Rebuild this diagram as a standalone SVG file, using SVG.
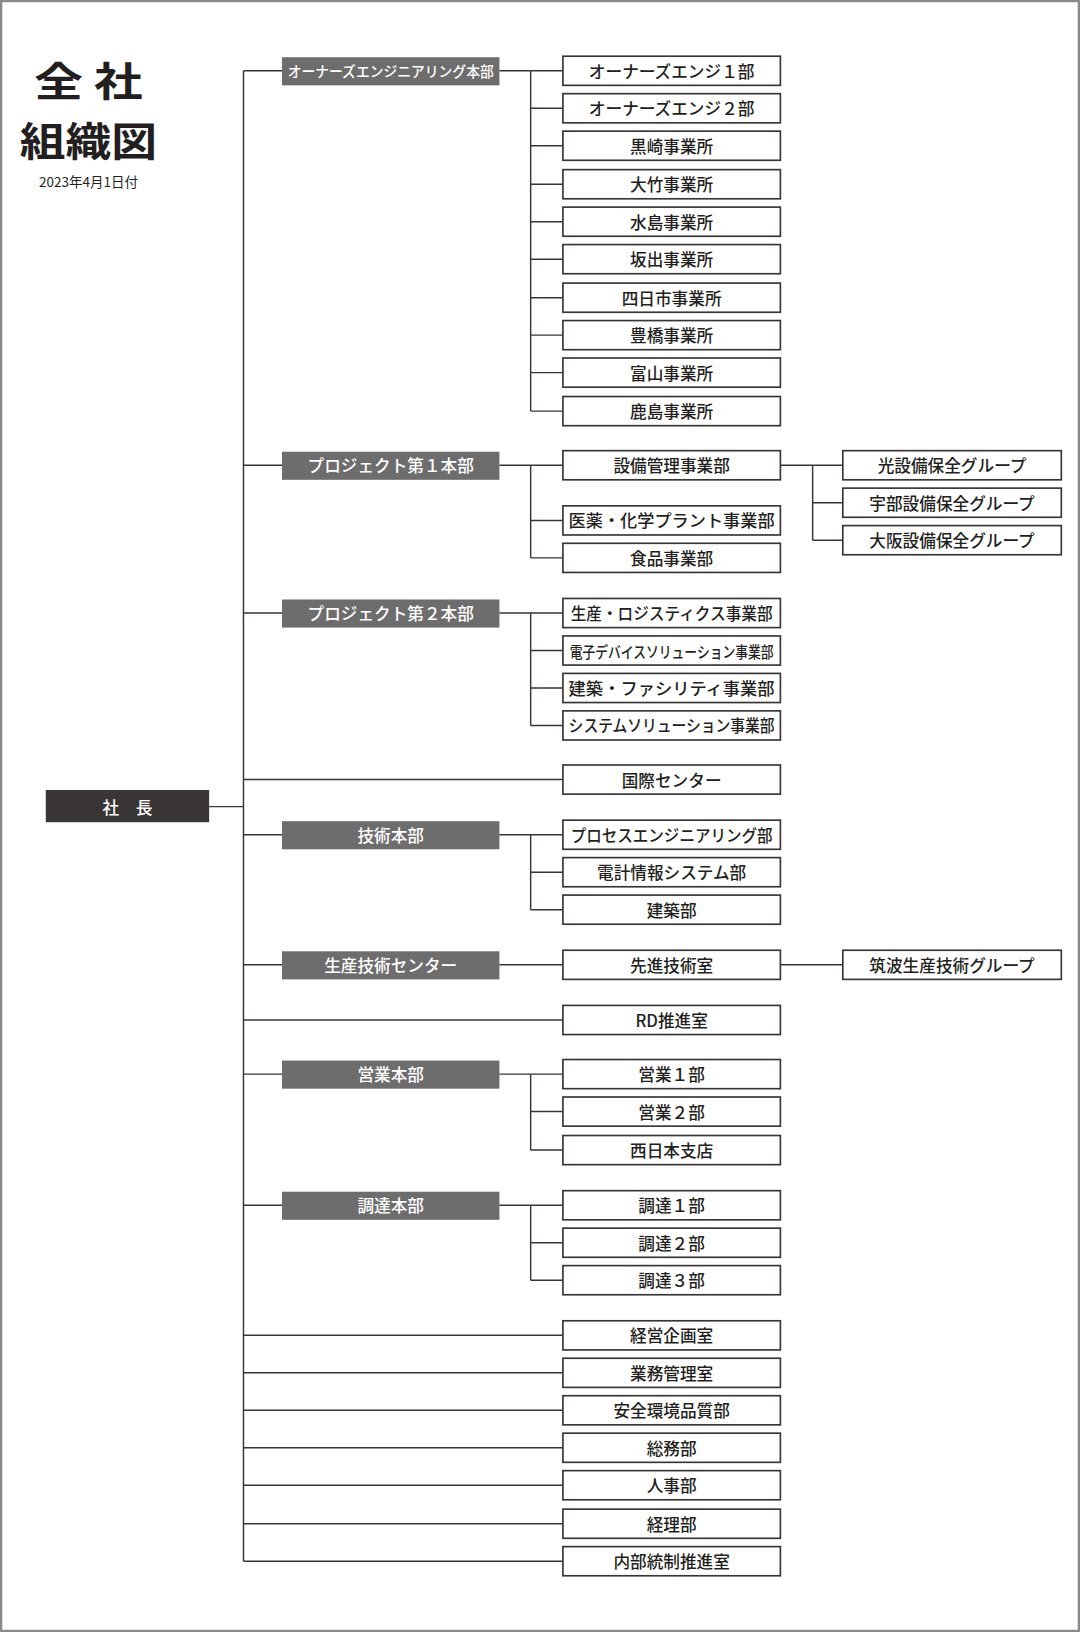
<svg xmlns="http://www.w3.org/2000/svg" width="1080" height="1632" viewBox="0 0 1080 1632">
<style>
text{font-family:"Noto Sans CJK JP","Noto Sans",sans-serif;text-anchor:middle;dominant-baseline:central}
.b2 rect{fill:#fff;stroke:#3a3535;stroke-width:1.6}
.b2 text{font-size:16px;font-weight:500;fill:#231f20}
.b1 rect{fill:#6e6d6d}
.b1 text{font-size:16px;font-weight:500;fill:#fff}
#conn path{fill:none;stroke:#3a3535;stroke-width:1.4}
</style>
<rect x="1" y="1" width="1078" height="1630" fill="#fff" stroke="#8a8a8a" stroke-width="2.5"/>
<g transform="scale(1.0405,1.0408)">
<g id="title" fill="#231f20">
<text x="85" y="75" font-size="38" font-weight="bold" textLength="104" lengthAdjust="spacingAndGlyphs" xml:space="preserve">全 社</text>
<text x="85" y="133" font-size="38" font-weight="bold" textLength="132" lengthAdjust="spacingAndGlyphs">組織図</text>
<text x="85" y="174" font-size="13">2023年4月1日付</text>
</g>
<g id="conn">
<path d="M201 775H234M234 68V1500"/>
<path d="M234 68H271M480 68H541M510 68V395M510 104H541M510 140H541M510 177H541M510 213H541M510 249H541M510 286H541M510 322H541M510 358H541M510 395H541"/>
<path d="M234 447H271M480 447H541M510 447V536M510 500H541M510 536H541M750 447H810M781 447V519M781 483H810M781 519H810"/>
<path d="M234 589H271M480 589H541M510 589V697M510 625H541M510 661H541M510 697H541"/>
<path d="M234 749H541"/>
<path d="M234 802H271M480 802H541M510 802V874M510 838H541M510 874H541"/>
<path d="M234 927H271M480 927H541M750 927H810"/>
<path d="M234 980H541"/>
<path d="M234 1032H271M480 1032H541M510 1032V1105M510 1068H541M510 1105H541"/>
<path d="M234 1158H271M480 1158H541M510 1158V1230M510 1194H541M510 1230H541"/>
<path d="M234 1283H541M234 1319H541M234 1355H541M234 1391H541M234 1427H541M234 1464H541M234 1500H541"/>
</g>
<g id="president"><rect x="44" y="759" width="157" height="31" fill="#3a3535"/><text x="122.5" y="775" font-size="16" font-weight="500" fill="#fff" xml:space="preserve">社　長</text></g>
<g id="h1" class="b1"><rect x="271" y="55" width="209" height="27"/><text x="375.5" y="68" textLength="198" lengthAdjust="spacingAndGlyphs" style="font-size:14px">オーナーズエンジニアリング本部</text></g>
<g id="h2" class="b1"><rect x="271" y="434" width="209" height="27"/><text x="375.5" y="447">プロジェクト第１本部</text></g>
<g id="h3" class="b1"><rect x="271" y="576" width="209" height="27"/><text x="375.5" y="589">プロジェクト第２本部</text></g>
<g id="h4" class="b1"><rect x="271" y="789" width="209" height="27"/><text x="375.5" y="802">技術本部</text></g>
<g id="h5" class="b1"><rect x="271" y="914" width="209" height="27"/><text x="375.5" y="927">生産技術センター</text></g>
<g id="h6" class="b1"><rect x="271" y="1019" width="209" height="27"/><text x="375.5" y="1032">営業本部</text></g>
<g id="h7" class="b1"><rect x="271" y="1145" width="209" height="27"/><text x="375.5" y="1158">調達本部</text></g>
<g id="n1" class="b2"><rect x="541" y="54" width="209" height="28"/><text x="645.5" y="68">オーナーズエンジ１部</text></g>
<g id="n2" class="b2"><rect x="541" y="90" width="209" height="28"/><text x="645.5" y="104">オーナーズエンジ２部</text></g>
<g id="n3" class="b2"><rect x="541" y="126" width="209" height="28"/><text x="645.5" y="140">黒崎事業所</text></g>
<g id="n4" class="b2"><rect x="541" y="163" width="209" height="28"/><text x="645.5" y="177">大竹事業所</text></g>
<g id="n5" class="b2"><rect x="541" y="199" width="209" height="28"/><text x="645.5" y="213">水島事業所</text></g>
<g id="n6" class="b2"><rect x="541" y="235" width="209" height="28"/><text x="645.5" y="249">坂出事業所</text></g>
<g id="n7" class="b2"><rect x="541" y="272" width="209" height="28"/><text x="645.5" y="286">四日市事業所</text></g>
<g id="n8" class="b2"><rect x="541" y="308" width="209" height="28"/><text x="645.5" y="322">豊橋事業所</text></g>
<g id="n9" class="b2"><rect x="541" y="344" width="209" height="28"/><text x="645.5" y="358">富山事業所</text></g>
<g id="n10" class="b2"><rect x="541" y="381" width="209" height="28"/><text x="645.5" y="395">鹿島事業所</text></g>
<g id="n11" class="b2"><rect x="541" y="433" width="209" height="28"/><text x="645.5" y="447">設備管理事業部</text></g>
<g id="n12" class="b2"><rect x="541" y="486" width="209" height="28"/><text x="645.5" y="500" textLength="198" lengthAdjust="spacingAndGlyphs">医薬・化学プラント事業部</text></g>
<g id="n13" class="b2"><rect x="541" y="522" width="209" height="28"/><text x="645.5" y="536">食品事業部</text></g>
<g id="g1" class="b2"><rect x="810" y="433" width="210" height="28"/><text x="915" y="447">光設備保全グループ</text></g>
<g id="g2" class="b2"><rect x="810" y="469" width="210" height="28"/><text x="915" y="483">宇部設備保全グループ</text></g>
<g id="g3" class="b2"><rect x="810" y="505" width="210" height="28"/><text x="915" y="519">大阪設備保全グループ</text></g>
<g id="n14" class="b2"><rect x="541" y="575" width="209" height="28"/><text x="645.5" y="589" textLength="194" lengthAdjust="spacingAndGlyphs">生産・ロジスティクス事業部</text></g>
<g id="n15" class="b2"><rect x="541" y="611" width="209" height="28"/><text x="645.5" y="625" textLength="196" lengthAdjust="spacingAndGlyphs" style="font-size:15px">電子デバイスソリューション事業部</text></g>
<g id="n16" class="b2"><rect x="541" y="647" width="209" height="28"/><text x="645.5" y="661" textLength="198" lengthAdjust="spacingAndGlyphs">建築・ファシリティ事業部</text></g>
<g id="n17" class="b2"><rect x="541" y="683" width="209" height="28"/><text x="645.5" y="697" textLength="198" lengthAdjust="spacingAndGlyphs">システムソリューション事業部</text></g>
<g id="n18" class="b2"><rect x="541" y="735" width="209" height="28"/><text x="645.5" y="749">国際センター</text></g>
<g id="n19" class="b2"><rect x="541" y="788" width="209" height="28"/><text x="645.5" y="802" textLength="194" lengthAdjust="spacingAndGlyphs">プロセスエンジニアリング部</text></g>
<g id="n20" class="b2"><rect x="541" y="824" width="209" height="28"/><text x="645.5" y="838">電計情報システム部</text></g>
<g id="n21" class="b2"><rect x="541" y="860" width="209" height="28"/><text x="645.5" y="874">建築部</text></g>
<g id="n22" class="b2"><rect x="541" y="913" width="209" height="28"/><text x="645.5" y="927">先進技術室</text></g>
<g id="g4" class="b2"><rect x="810" y="913" width="210" height="28"/><text x="915" y="927">筑波生産技術グループ</text></g>
<g id="n23" class="b2"><rect x="541" y="966" width="209" height="28"/><text x="645.5" y="980">RD推進室</text></g>
<g id="n24" class="b2"><rect x="541" y="1018" width="209" height="28"/><text x="645.5" y="1032">営業１部</text></g>
<g id="n25" class="b2"><rect x="541" y="1054" width="209" height="28"/><text x="645.5" y="1068">営業２部</text></g>
<g id="n26" class="b2"><rect x="541" y="1091" width="209" height="28"/><text x="645.5" y="1105">西日本支店</text></g>
<g id="n27" class="b2"><rect x="541" y="1144" width="209" height="28"/><text x="645.5" y="1158">調達１部</text></g>
<g id="n28" class="b2"><rect x="541" y="1180" width="209" height="28"/><text x="645.5" y="1194">調達２部</text></g>
<g id="n29" class="b2"><rect x="541" y="1216" width="209" height="28"/><text x="645.5" y="1230">調達３部</text></g>
<g id="n30" class="b2"><rect x="541" y="1269" width="209" height="28"/><text x="645.5" y="1283">経営企画室</text></g>
<g id="n31" class="b2"><rect x="541" y="1305" width="209" height="28"/><text x="645.5" y="1319">業務管理室</text></g>
<g id="n32" class="b2"><rect x="541" y="1341" width="209" height="28"/><text x="645.5" y="1355">安全環境品質部</text></g>
<g id="n33" class="b2"><rect x="541" y="1377" width="209" height="28"/><text x="645.5" y="1391">総務部</text></g>
<g id="n34" class="b2"><rect x="541" y="1413" width="209" height="28"/><text x="645.5" y="1427">人事部</text></g>
<g id="n35" class="b2"><rect x="541" y="1450" width="209" height="28"/><text x="645.5" y="1464">経理部</text></g>
<g id="n36" class="b2"><rect x="541" y="1486" width="209" height="28"/><text x="645.5" y="1500">内部統制推進室</text></g>
</g>
</svg>
